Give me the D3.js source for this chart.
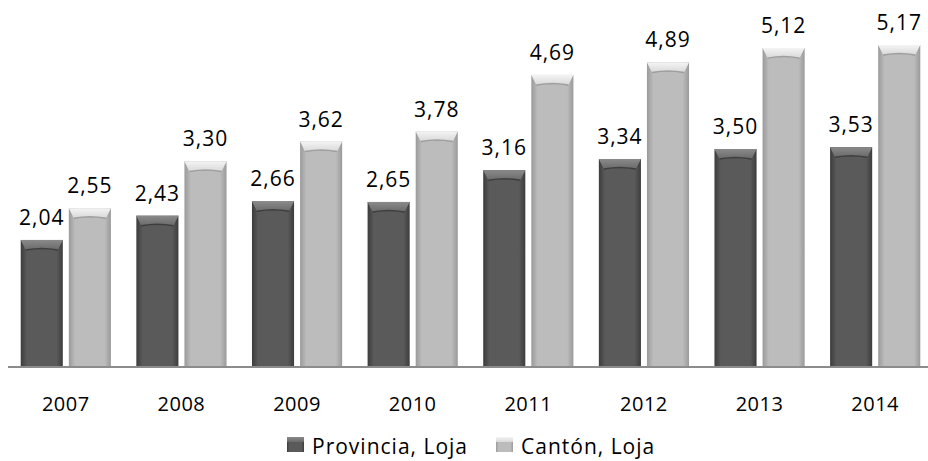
<!DOCTYPE html>
<html><head><meta charset="utf-8">
<script src="https://cdn.jsdelivr.net/npm/d3@7"></script>
<style>body{margin:0;background:#fff;}svg{display:block;}text{font-family:"Open Sans",sans-serif;}</style>
</head><body>
<svg id="c" width="928" height="461"></svg>
<script>
const years = ["2007","2008","2009","2010","2011","2012","2013","2014"];
const seriesNames = ["Provincia, Loja","Cantón, Loja"];
const provincia = [2.04,2.43,2.66,2.65,3.16,3.34,3.50,3.53];
const canton = [2.55,3.30,3.62,3.78,4.69,4.89,5.12,5.17];
const seriesValues = [provincia, canton];
const fmt = v => v.toFixed(2).replace(".", ",");

const svg = d3.select("#c");
const defs = svg.append("defs");
const colors = [
  {edge:"#3c3c3c", mid:"#5a5a5a", cap:"#6a6a6a", shadow:"#2e2e2e"},
  {edge:"#9a9a9a", mid:"#bcbcbc", cap:"#d8d8d8", shadow:"#8a8a8a"}
];
colors.forEach((c,i)=>{
  const g = defs.append("linearGradient").attr("id","g"+i).attr("x1","0").attr("x2","1").attr("y1","0").attr("y2","0");
  g.append("stop").attr("offset","0").attr("stop-color",c.edge);
  g.append("stop").attr("offset","0.15").attr("stop-color",c.mid);
  g.append("stop").attr("offset","0.85").attr("stop-color",c.mid);
  g.append("stop").attr("offset","1").attr("stop-color",c.edge);
  const h = defs.append("linearGradient").attr("id","h"+i).attr("x1","0").attr("x2","0").attr("y1","0").attr("y2","1");
  h.append("stop").attr("offset","0").attr("stop-color",i?"#f4f4f4":"#8a8a8a");
  h.append("stop").attr("offset","1").attr("stop-color",c.cap);
});

const x0 = d3.scaleBand().domain(years).range([8,933]).paddingInner(0.22).paddingOuter(0.11);
const x1 = d3.scaleBand().domain([0,1]).range([0,x0.bandwidth()]).paddingInner(0.125);
const y = d3.scaleLinear().domain([0,5.17]).range([367,45]);

const groups = svg.selectAll("g.yr").data(years).join("g").attr("class","yr")
  .attr("transform", d=>`translate(${x0(d)},0)`);

years.forEach((yr,yi)=>{
  const g = groups.filter(d=>d===yr);
  seriesValues.forEach((vals,si)=>{
    const v = vals[yi];
    const bx = x1(si), bw = x1.bandwidth(), top = y(v), h = y(0)-top;
    g.append("rect").attr("x",bx).attr("y",top).attr("width",bw).attr("height",h).attr("fill",`url(#g${si})`);
    const capH = 10;
    g.append("path").attr("d",`M${bx},${top}L${bx+bw},${top}L${bx+bw-5},${top+capH}Q${bx+bw/2},${top+capH-3} ${bx+5},${top+capH}Z`)
      .attr("fill",`url(#h${si})`);
    g.append("path").attr("d",`M${bx+5},${top+capH}Q${bx+bw/2},${top+capH-3} ${bx+bw-5},${top+capH}`)
      .attr("fill","none").attr("stroke",colors[si].shadow).attr("stroke-width",1.5).attr("opacity",0.7);
    g.append("text").attr("x",bx+bw/2).attr("y",top-15).attr("text-anchor","middle")
      .attr("font-size",21).attr("letter-spacing",1).attr("fill","#000").text(fmt(v));
  });
});

const axis = d3.axisBottom(x0).tickSize(0).tickPadding(30);
const ag = svg.append("g").attr("transform","translate(0,367)").call(axis);
ag.select(".domain").attr("d","M8,0H928").attr("stroke","#8c8c8c").attr("stroke-width",2);
ag.selectAll("text").attr("font-size",20).attr("fill","#000").attr("letter-spacing",0.5).attr("font-family","'Open Sans',sans-serif");

const legX = [287, 496];
seriesNames.forEach((n,i)=>{
  const lg = svg.append("g").attr("transform",`translate(${legX[i]},437)`);
  lg.append("rect").attr("width",17).attr("height",15).attr("fill",`url(#g${i})`);
  lg.append("rect").attr("width",17).attr("height",5).attr("fill",`url(#h${i})`);
  lg.append("text").attr("x",25).attr("y",17).attr("font-size",21).attr("letter-spacing",1).attr("fill","#000").text(n);
});
</script>
</body></html>
